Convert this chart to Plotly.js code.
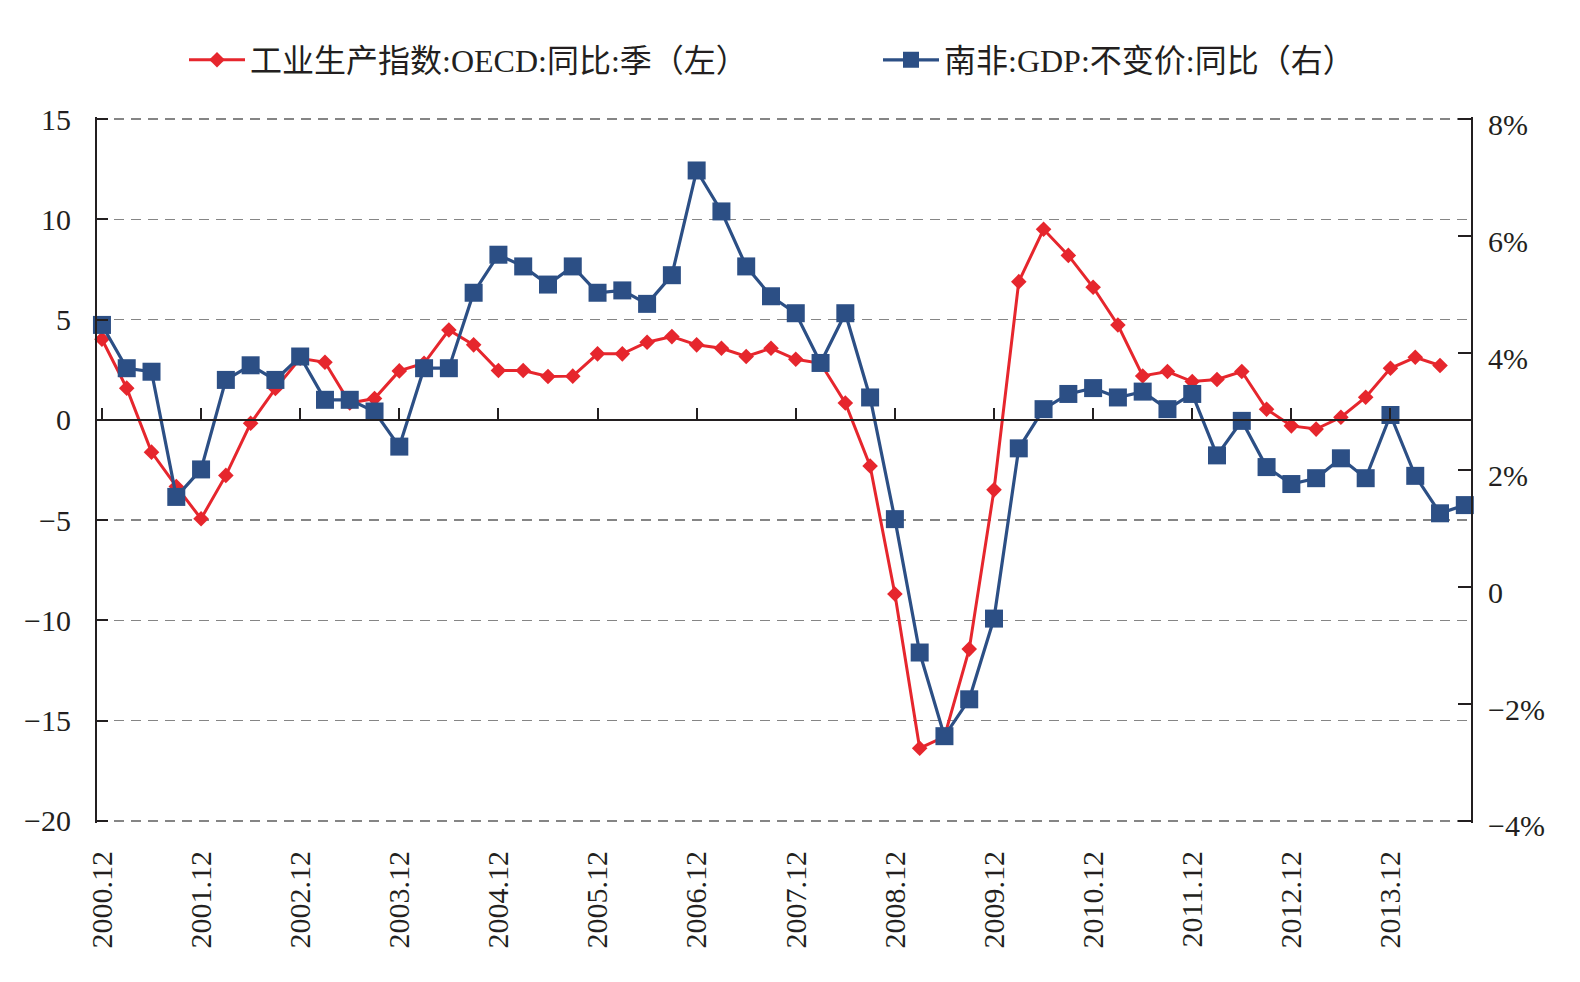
<!DOCTYPE html>
<html><head><meta charset="utf-8">
<script src="https://cdn.plot.ly/plotly-3.0.1.min.js"></script>
<style>html,body{margin:0;padding:0;background:#fff}#chart{width:1580px;height:982px}</style>
</head><body><div id="chart"></div>
<script>
const quarters = [
 '2000.12',
 '2001.03','2001.06','2001.09','2001.12',
 '2002.03','2002.06','2002.09','2002.12',
 '2003.03','2003.06','2003.09','2003.12',
 '2004.03','2004.06','2004.09','2004.12',
 '2005.03','2005.06','2005.09','2005.12',
 '2006.03','2006.06','2006.09','2006.12',
 '2007.03','2007.06','2007.09','2007.12',
 '2008.03','2008.06','2008.09','2008.12',
 '2009.03','2009.06','2009.09','2009.12',
 '2010.03','2010.06','2010.09','2010.12',
 '2011.03','2011.06','2011.09','2011.12',
 '2012.03','2012.06','2012.09','2012.12',
 '2013.03','2013.06','2013.09','2013.12',
 '2014.03','2014.06','2014.09'
];
const yearTicks = ['2000.12','2001.12','2002.12','2003.12','2004.12','2005.12','2006.12',
 '2007.12','2008.12','2009.12','2010.12','2011.12','2012.12','2013.12'];

// 工业生产指数:OECD:同比:季 (left axis), 2000.12 - 2014.06
const oecdIP = [
 4.02,
 1.58,-1.61,-3.32,-4.93,
 -2.77,-0.17,1.56,3.07,
 2.87,0.84,1.06,2.44,
 2.82,4.48,3.74,2.46,
 2.46,2.16,2.18,3.29,
 3.29,3.87,4.15,3.74,
 3.57,3.16,3.57,3.02,
 2.82,0.84,-2.30,-8.68,
 -16.37,-15.8,-11.43,-3.49,
 6.89,9.50,8.20,6.61,
 4.73,2.19,2.41,1.91,
 2.01,2.41,0.53,-0.30,
 -0.46,0.13,1.13,2.57,
 3.12,2.71
];
// 南非:GDP:不变价:同比 (right axis, %), 2000.12 - 2014.09
const saGDP = [
 4.48,
 3.74,3.68,1.54,2.01,
 3.54,3.79,3.54,3.94,
 3.20,3.20,3.00,2.40,
 3.74,3.74,5.03,5.68,
 5.48,5.17,5.48,5.03,
 5.07,4.84,5.33,7.12,
 6.42,5.48,4.97,4.68,
 3.83,4.68,3.24,1.16,
 -1.12,-2.55,-1.92,-0.54,
 2.37,3.04,3.30,3.40,
 3.24,3.34,3.04,3.30,
 2.25,2.84,2.05,1.76,
 1.86,2.20,1.86,2.94,
 1.90,1.26,1.40
];
const leftTickVals = [-20,-15,-10,-5,0,5,10,15];
const rightTickVals = [-4,-2,0,2,4,6,8];
const rightTickText = ['\u22124%','\u22122%','0','2%','4%','6%','8%'];
const seriesNames = ['工业生产指数:OECD:同比:季（左）','南非:GDP:不变价:同比（右）'];

const FONT = 'Liberation Serif, "Noto Sans CJK SC", serif';
const RED = '#E6262D';
const BLUE = '#2C4F85';
const INK = '#231f20';
const xRange = [-0.2, 55.25];
// small padding so the end gridlines/ticks (15 and -20) are drawn
const padL = 0.1;
const padR = padL * 12 / 35;

const traces = [
 {
  type:'scatter', mode:'lines+markers', name: seriesNames[0], legend:'legend',
  x: quarters.slice(0, oecdIP.length), y: oecdIP, xaxis:'x', yaxis:'y',
  line:{color:RED, width:3}, marker:{symbol:'diamond', size:12, color:RED},
  cliponaxis:false
 },
 {
  type:'scatter', mode:'lines+markers', name: seriesNames[1], legend:'legend2',
  x: quarters.slice(0, saGDP.length), y: saGDP, xaxis:'x2', yaxis:'y2',
  line:{color:BLUE, width:3.2}, marker:{symbol:'square', size:18, color:BLUE},
  cliponaxis:false
 }
];

const legendCommon = {
 orientation:'h', xref:'container', yref:'container', xanchor:'left', yanchor:'middle',
 y: 1 - 60/982, itemwidth:56,
 font:{family:FONT, size:32, color:INK}, bgcolor:'rgba(0,0,0,0)', borderwidth:0
};

const layout = {
 width:1580, height:982,
 margin:{l:97, r:109, t:117, b:159},
 paper_bgcolor:'#fff', plot_bgcolor:'#fff',
 font:{family:FONT, size:30, color:INK},
 showlegend:true,
 legend: Object.assign({}, legendCommon, {x:184/1580}),
 legend2: Object.assign({}, legendCommon, {x:878/1580}),
 xaxis:{
  type:'category', categoryorder:'array', categoryarray:quarters,
  range:xRange, tickmode:'array', tickvals:yearTicks, ticktext:yearTicks,
  tickangle:-90, ticks:'', showline:false, showgrid:false, zeroline:false,
  ticklabelstandoff:21, tickfont:{family:FONT, size:30, color:INK}
 },
 xaxis2:{
  type:'category', categoryorder:'array', categoryarray:quarters,
  overlaying:'x', anchor:'free', position:(20+padL)/(35+2*padL), side:'bottom',
  range:xRange, tickmode:'array', tickvals:yearTicks,
  showticklabels:false, ticks:'inside', ticklen:11, tickwidth:2, tickcolor:INK,
  showline:true, linecolor:INK, linewidth:2, showgrid:false, zeroline:false
 },
 yaxis:{
  range:[-20-padL, 15+padL], tickmode:'array', tickvals:leftTickVals,
  showline:true, linecolor:INK, linewidth:2,
  ticks:'inside', ticklen:11, tickwidth:2, tickcolor:INK,
  showgrid:true, gridcolor:'#858585', gridwidth:1.5, griddash:'10px,7px',
  zeroline:false, ticklabelstandoff:18,
  tickfont:{family:FONT, size:30, color:INK}
 },
 yaxis2:{
  range:[-4-padR, 8+padR], overlaying:'y', side:'right', anchor:'x2',
  tickmode:'array', tickvals:rightTickVals, ticktext:rightTickText,
  showline:true, linecolor:INK, linewidth:2,
  ticks:'inside', ticklen:13, tickwidth:2, tickcolor:INK,
  showgrid:false, zeroline:false, ticklabelstandoff:9, ticklabelshift:5,
  tickfont:{family:FONT, size:30, color:INK}
 }
};

Plotly.newPlot('chart', traces, layout, {displayModeBar:false, staticPlot:true});
</script>
</body></html>
